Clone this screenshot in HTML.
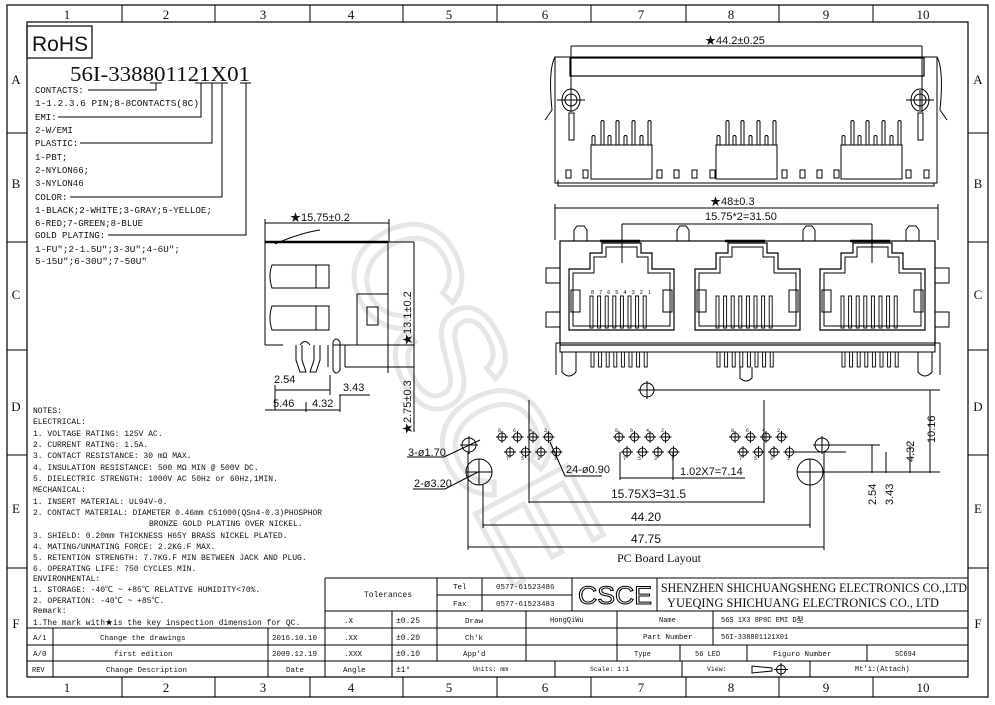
<!DOCTYPE html>
<html><head><meta charset="utf-8"><style>
html,body{margin:0;padding:0;background:#fff;}
svg{display:block;}
text{font-family:"Liberation Mono","Noto Sans CJK SC",monospace;fill:#111;}
.s{font-family:"Liberation Sans","Noto Sans CJK SC",sans-serif;}
.sf{font-family:"Liberation Serif","Noto Serif CJK SC",serif;}
</style></head><body>
<svg width="995" height="705" viewBox="0 0 995 705" xmlns="http://www.w3.org/2000/svg">
<defs>
<g id="port" fill="none" stroke="#000">
<path d="M0,87 V26 H21 V10 H33 V0 H72 V10 H83 V26 H105 V87 Z" stroke-width="1.2"/>
<path d="M4,83 V30 H25 V14 H37 V4 H68 V14 H79 V30 H101 V83 Z" stroke-width="1"/>
<rect x="2" y="47" width="9" height="22"/><rect x="94" y="47" width="9" height="22"/>
<g stroke-width="0.9">
<rect x="21" y="53" width="3" height="32"/><rect x="28.6" y="53" width="3" height="32"/><rect x="36.2" y="53" width="3" height="32"/><rect x="43.8" y="53" width="3" height="32"/>
<rect x="51.4" y="53" width="3" height="32"/><rect x="59" y="53" width="3" height="32"/><rect x="66.6" y="53" width="3" height="32"/><rect x="74.2" y="53" width="3" height="32"/>
</g>
<g stroke-width="0.9">
<rect x="22" y="109" width="3" height="15"/><rect x="29.6" y="109" width="3" height="15"/><rect x="37.2" y="109" width="3" height="15"/><rect x="44.8" y="109" width="3" height="15"/>
<rect x="52.4" y="109" width="3" height="15"/><rect x="60" y="109" width="3" height="15"/><rect x="67.6" y="109" width="3" height="15"/><rect x="75.2" y="109" width="3" height="15"/>
</g>
</g>
<g id="topj" fill="none" stroke="#000" stroke-width="1">
<rect x="591" y="145" width="61" height="34"/>
<path d="M592,145V137a1.5,1.5 0 0 1 3,0V145 M608,145V137a1.5,1.5 0 0 1 3,0V145 M624,145V137a1.5,1.5 0 0 1 3,0V145 M640,145V137a1.5,1.5 0 0 1 3,0V145"/>
<path d="M601,145V122a1.5,1.5 0 0 1 3,0V145 M616,145V122a1.5,1.5 0 0 1 3,0V145 M632,145V122a1.5,1.5 0 0 1 3,0V145 M648,145V122a1.5,1.5 0 0 1 3,0V145"/>
</g>
<g id="holes" fill="none" stroke="#000" stroke-width="0.9">
<circle cx="0" cy="0" r="4"/><path d="M-6,0H6M0,-6V6"/>
<circle cx="15.5" cy="0" r="4"/><path d="M9.5,0H21.5M15.5,-6V6"/>
<circle cx="31" cy="0" r="4"/><path d="M25,0H37M31,-6V6"/>
<circle cx="46.5" cy="0" r="4"/><path d="M40.5,0H52.5M46.5,-6V6"/>
<circle cx="8" cy="15" r="4"/><path d="M2,15H14M8,9V21"/>
<circle cx="23.5" cy="15" r="4"/><path d="M17.5,15H29.5M23.5,9V21"/>
<circle cx="39" cy="15" r="4"/><path d="M33,15H45M39,9V21"/>
<circle cx="54.5" cy="15" r="4"/><path d="M48.5,15H60.5M54.5,9V21"/>
<g stroke="none" fill="#222"><text x="-4" y="-5" style="font-size:5px">8</text><text x="11" y="-5" style="font-size:5px">6</text><text x="27" y="-5" style="font-size:5px">4</text><text x="42" y="-5" style="font-size:5px">2</text>
<text x="4" y="23" style="font-size:5px">7</text><text x="19" y="23" style="font-size:5px">5</text><text x="35" y="23" style="font-size:5px">3</text><text x="52" y="23" style="font-size:5px">1</text></g>
</g>
</defs>

<!-- watermark -->
<text x="0" y="0" class="s" transform="translate(335,250) rotate(62)" style="font-size:150px;fill:none;stroke:#e6e6e6;stroke-width:5;letter-spacing:-10px">CSCE</text>

<!-- frame -->
<g fill="none" stroke="#000" stroke-width="1.2">
<rect x="7" y="5" width="981" height="692"/>
<rect x="27" y="22" width="941" height="655"/>
</g>
<g stroke="#000" stroke-width="1">
<path d="M122,5V22M215,5V22M310,5V22M403,5V22M497,5V22M591,5V22M686,5V22M779,5V22M873,5V22"/>
<path d="M122,677V697M215,677V697M310,677V697M403,677V697M497,677V697M591,677V697M686,677V697M779,677V697M873,677V697"/>
<path d="M7,133H27M7,242H27M7,350H27M7,455H27M7,568H27"/>
<path d="M968,133H988M968,242H988M968,350H988M968,455H988M968,568H988"/>
</g>
<g style="font-size:13px" text-anchor="middle">
<text class="sf" x="67" y="19">1</text><text class="sf" x="166" y="19">2</text><text class="sf" x="263" y="19">3</text><text class="sf" x="351" y="19">4</text><text class="sf" x="449" y="19">5</text><text class="sf" x="545" y="19">6</text><text class="sf" x="641" y="19">7</text><text class="sf" x="731" y="19">8</text><text class="sf" x="826" y="19">9</text><text class="sf" x="923" y="19">10</text>
<text class="sf" x="67" y="692">1</text><text class="sf" x="166" y="692">2</text><text class="sf" x="263" y="692">3</text><text class="sf" x="351" y="692">4</text><text class="sf" x="449" y="692">5</text><text class="sf" x="545" y="692">6</text><text class="sf" x="641" y="692">7</text><text class="sf" x="731" y="692">8</text><text class="sf" x="826" y="692">9</text><text class="sf" x="923" y="692">10</text>
<text class="sf" x="16" y="84">A</text><text class="sf" x="16" y="188">B</text><text class="sf" x="16" y="299">C</text><text class="sf" x="16" y="411">D</text><text class="sf" x="16" y="513">E</text><text class="sf" x="16" y="628">F</text>
<text class="sf" x="978" y="84">A</text><text class="sf" x="978" y="188">B</text><text class="sf" x="978" y="299">C</text><text class="sf" x="978" y="411">D</text><text class="sf" x="978" y="513">E</text><text class="sf" x="978" y="628">F</text>
</g>

<!-- RoHS & part code -->
<rect x="27" y="26" width="65" height="32" fill="none" stroke="#000" stroke-width="1.2"/>
<text class="s" x="32" y="51" style="font-size:21px">RoHS</text>
<text class="sf" x="70" y="81" style="font-size:21px" textLength="180" lengthAdjust="spacingAndGlyphs">56I-338801121X01</text>
<g>
<text x="35" y="93" style="font-size:9px">CONTACTS:</text>
<text x="35" y="106" style="font-size:9px" textLength="164" lengthAdjust="spacingAndGlyphs">1-1.2.3.6 PIN;8-8CONTACTS(8C)</text>
<text x="35" y="120" style="font-size:9px">EMI:</text>
<text x="35" y="133" style="font-size:9px">2-W/EMI</text>
<text x="35" y="146" style="font-size:9px">PLASTIC:</text>
<text x="35" y="160" style="font-size:9px">1-PBT;</text>
<text x="35" y="173" style="font-size:9px">2-NYLON66;</text>
<text x="35" y="186" style="font-size:9px">3-NYLON46</text>
<text x="35" y="200" style="font-size:9px">COLOR:</text>
<text x="35" y="213" style="font-size:9px" textLength="177" lengthAdjust="spacingAndGlyphs">1-BLACK;2-WHITE;3-GRAY;5-YELLOE;</text>
<text x="35" y="226" style="font-size:9px">6-RED;7-GREEN;8-BLUE</text>
<text x="35" y="238" style="font-size:9px">GOLD PLATING:</text>
<text x="35" y="252" style="font-size:9px" textLength="145" lengthAdjust="spacingAndGlyphs">1-FU";2-1.5U";3-3U";4-6U";</text>
<text x="35" y="264" style="font-size:9px" textLength="112" lengthAdjust="spacingAndGlyphs">5-15U";6-30U";7-50U"</text>
</g>
<g fill="none" stroke="#000" stroke-width="1">
<path d="M88,90H156V83M150,83H162"/>
<path d="M58,117H201V83M195,83H207"/>
<path d="M80,143H212V83M207,83H218"/>
<path d="M70,197H222V83M217,83H228"/>
<path d="M108,235H246V83M240,83H251"/>
</g>

<!-- Notes -->
<g>
<text x="33" y="413" style="font-size:8px">NOTES:</text>
<text x="33" y="424" style="font-size:8px">ELECTRICAL:</text>
<text x="33" y="436" style="font-size:8px">1. VOLTAGE RATING: 125V AC.</text>
<text x="33" y="447" style="font-size:8px">2. CURRENT RATING: 1.5A.</text>
<text x="33" y="458" style="font-size:8px">3. CONTACT RESISTANCE: 30 mΩ MAX.</text>
<text x="33" y="470" style="font-size:8px">4. INSULATION RESISTANCE: 500 MΩ MIN @ 500V DC.</text>
<text x="33" y="481" style="font-size:8px">5. DIELECTRIC STRENGTH: 1000V AC 50Hz or 60Hz,1MIN.</text>
<text x="33" y="492" style="font-size:8px">MECHANICAL:</text>
<text x="33" y="504" style="font-size:8px">1. INSERT MATERIAL: UL94V-0.</text>
<text x="33" y="515" style="font-size:8px" textLength="289" lengthAdjust="spacingAndGlyphs">2. CONTACT MATERIAL: DIAMETER 0.46mm C51000(QSn4-0.3)PHOSPHOR</text>
<text x="149" y="526" style="font-size:8px">BRONZE GOLD PLATING OVER NICKEL.</text>
<text x="33" y="538" style="font-size:8px">3. SHIELD: 0.20mm THICKNESS H65Y BRASS NICKEL PLATED.</text>
<text x="33" y="549" style="font-size:8px">4. MATING/UNMATING FORCE: 2.2KG.F MAX.</text>
<text x="33" y="560" style="font-size:8px">5. RETENTION STRENGTH: 7.7KG.F MIN BETWEEN JACK AND PLUG.</text>
<text x="33" y="571" style="font-size:8px">6. OPERATING LIFE: 750 CYCLES MIN.</text>
<text x="33" y="581" style="font-size:8px">ENVIRONMENTAL:</text>
<text x="33" y="592" style="font-size:8px">1. STORAGE: -40℃ ~ +85℃ RELATIVE HUMIDITY&lt;70%.</text>
<text x="33" y="603" style="font-size:8px">2. OPERATION: -40℃ ~ +85℃.</text>
<text x="33" y="613" style="font-size:8px">Remark:</text>
<text x="33" y="625" style="font-size:8px">1.The mark with★is the key inspection dimension for QC.</text>
</g>

<!-- Title block -->
<g fill="none" stroke="#000" stroke-width="1">
<path d="M325,578H968M325,578V677M437,578V611M482,578V611M572,578V611M657,578V611M437,595H572"/>
<path d="M325,611H968M27,628H968M27,645H968M27,661H968"/>
<path d="M53,628V677M268,628V677M392,611V677M437,611V661M526,611V661M617,611V661M713,611V645M680,645V661M747,645V661M867,645V661M555,661V677M682,661V677M810,661V677"/>
</g>
<g>
<text x="364" y="597" style="font-size:8px">Tolerances</text>
<text x="453" y="589" style="font-size:7.5px">Tel</text>
<text x="453" y="606" style="font-size:7.5px">Fax</text>
<text x="496" y="589" style="font-size:7.5px">0577-61523486</text>
<text x="496" y="606" style="font-size:7.5px">0577-61523483</text>
<text x="344" y="623" style="font-size:7.5px">.X</text><text x="396" y="623" style="font-size:8px">±0.25</text>
<text x="344" y="640" style="font-size:7.5px">.XX</text><text x="396" y="640" style="font-size:8px">±0.20</text>
<text x="344" y="656" style="font-size:7.5px">.XXX</text><text x="396" y="656" style="font-size:8px">±0.10</text>
<text x="343" y="672" style="font-size:7.5px">Angle</text><text x="396" y="672" style="font-size:8px">±1°</text>
<text x="33" y="640" style="font-size:7.5px">A/1</text><text x="100" y="640" style="font-size:7.5px">Change the drawings</text><text x="272" y="640" style="font-size:7.5px">2016.10.10</text>
<text x="33" y="656" style="font-size:7.5px">A/0</text><text x="114" y="656" style="font-size:7.5px">first edition</text><text x="272" y="656" style="font-size:7.5px">2009.12.19</text>
<text x="32" y="672" style="font-size:7px">REV</text><text x="106" y="672" style="font-size:7.5px">Change Description</text><text x="286" y="672" style="font-size:7.5px">Date</text>
<text x="465" y="623" style="font-size:7.5px">Draw</text><text x="465" y="640" style="font-size:7.5px">Ch'k</text><text x="463" y="656" style="font-size:7.5px">App'd</text>
<text x="550" y="622" style="font-size:7px">HongQiWu</text>
<text x="659" y="622" style="font-size:7px">Name</text>
<text x="643" y="639" style="font-size:7.5px">Part Number</text>
<text x="721" y="622" style="font-size:7px">56S 1X3 8P8C EMI D型</text>
<text x="721" y="639" style="font-size:7px">56I-338801121X01</text>
<text x="634" y="656" style="font-size:7px">Type</text>
<text x="695" y="656" style="font-size:7px">56 LED</text>
<text x="773" y="656" style="font-size:7.5px">Figuro Number</text>
<text x="895" y="656" style="font-size:7px">SC694</text>
<text x="473" y="671" style="font-size:6.5px">Units: mm</text>
<text x="590" y="671" style="font-size:6.5px">Scale: 1:1</text>
<text x="707" y="671" style="font-size:6.5px">View:</text>
<text x="855" y="671" style="font-size:7px">Mt'1:(Attach)</text>
</g>
<g fill="none" stroke="#000" stroke-width="1">
<path d="M752,666V673L772,671V668Z"/><circle cx="781" cy="669.5" r="4.5"/><path d="M774,669.5H788M781,663V676"/>
</g>
<text class="s" x="578" y="604" style="font-size:25px;fill:#fff;stroke:#000;stroke-width:1" textLength="74" lengthAdjust="spacingAndGlyphs">CSCE</text>
<text class="sf" x="661" y="592" style="font-size:12.5px" textLength="306" lengthAdjust="spacingAndGlyphs">SHENZHEN SHICHUANGSHENG ELECTRONICS CO.,LTD</text>
<text class="sf" x="667" y="607" style="font-size:12.5px" textLength="272" lengthAdjust="spacingAndGlyphs">YUEQING SHICHUANG ELECTRONICS CO., LTD</text>

<!-- Side view -->
<g fill="none" stroke="#000" stroke-width="1">
<path d="M265,223H389M265,219V345M389,219V242"/>
<path d="M265,242H388" stroke-width="2.5"/>
<path d="M388,242V373M265,345H283M333,345H388M275,244Q300,233 320,230"/>
<path d="M272,265H329V288H272Q268,276 272,265Z M316,265V288 M272,306H329V330H272Q268,318 272,306Z M316,306V330"/>
<path d="M357,294V345M357,294H388M367,307H378V325H367Z"/>
<path d="M296,345V360L300,372H306L302,360V345M314,345V360L310,372H316L320,360V345M300,345Q305,338 310,345"/>
<path d="M328,345V367M345,345V367M333,342V370Q336,376 340,370V342Q336,336 333,342"/>
<path d="M345,367H414M388,242H414M388,345H414M414,242V432"/>
<path d="M275,390H330M330,375V395M275,385V410M339,395H370M265,410H340M306,402V412M340,395V412"/>
</g>
<text class="s" x="290" y="221" style="font-size:11px">★15.75±0.2</text>
<text class="s" transform="translate(411,345) rotate(-90)" style="font-size:11px">★13.1±0.2</text>
<text class="s" transform="translate(411,434) rotate(-90)" style="font-size:11px">★2.75±0.3</text>
<text class="s" x="274" y="383" style="font-size:11px">2.54</text>
<text class="s" x="343" y="391" style="font-size:11px">3.43</text>
<text class="s" x="273" y="407" style="font-size:11px">5.46</text>
<text class="s" x="312" y="407" style="font-size:11px">4.32</text>

<!-- Top front view -->
<g fill="none" stroke="#000" stroke-width="1">
<path d="M571,46H922M571,46V112M922,46V112"/>
<rect x="555" y="57" width="382" height="126"/>
<path d="M558,180V186H934V183"/>
<rect x="570" y="58" width="354" height="18" stroke-width="1.2"/>
<path d="M555,57Q548,70 552,110L545,120M937,57Q944,70 940,110L947,120"/>
<ellipse cx="571" cy="100" rx="9" ry="11"/><circle cx="571" cy="100" r="6"/><path d="M557,100H585M571,90V110"/>
<ellipse cx="920" cy="100" rx="9" ry="11"/><circle cx="920" cy="100" r="6"/><path d="M906,100H934M920,90V110"/>
<rect x="569" y="113" width="5" height="27"/><rect x="918" y="113" width="5" height="27"/>
<path d="M566,170h5v8h-5zM583,170h5v8h-5zM657,170h5v8h-5zM674,170h5v8h-5zM692,170h5v8h-5zM710,170h5v8h-5zM782,170h5v8h-5zM800,170h5v8h-5zM817,170h5v8h-5zM834,170h5v8h-5zM906,170h5v8h-5zM924,170h5v8h-5z"/>
</g>
<use href="#topj"/><use href="#topj" transform="translate(125,0)"/><use href="#topj" transform="translate(250,0)"/>
<text class="s" x="705" y="44" style="font-size:11px">★44.2±0.25</text>

<!-- Front view -->
<g fill="none" stroke="#000" stroke-width="1">
<path d="M555,208H938M555,204V240M938,204V240M622,224H872M622,224V263M872,224V263"/>
<rect x="560" y="241" width="375" height="104" stroke-width="1.2"/>
<path d="M600,241H640M725,241H765M850,241H890" stroke-width="2.5"/>
<path d="M574,241V230L577,226H584L587,230V241M677,241V230L680,226H686L689,230V241M803,241V230L806,226H812L815,230V241M906,241V230L909,226H916L919,230V241"/>
<path d="M560,268H546V283H560M560,312H546V327H560M935,268H949V283H935M935,312H949V327H935"/>
<path d="M556,343H940M560,345V352H935V345M556,343V375M940,343V375"/>
<path d="M562,352V372Q569,380 576,372V352M918,352V372Q925,380 932,372V352M740,367V378Q746,384 752,378V367"/>
</g>
<use href="#port" x="569" y="243"/><use href="#port" x="695" y="243"/><use href="#port" x="820" y="243"/>
<text class="s" x="591" y="294" style="font-size:5.5px" textLength="60">8 7 6 5 4 3 2 1</text>
<text class="s" x="710" y="205" style="font-size:11px">★48±0.3</text>
<text class="s" x="705" y="220" style="font-size:11px">15.75*2=31.50</text>

<!-- PCB layout -->
<g fill="none" stroke="#000" stroke-width="1">
<circle cx="647" cy="390" r="7"/><path d="M638,390H656M647,381V399M656,390H940M930,390V473"/>
<use href="#holes" x="502" y="437"/><use href="#holes" x="619" y="437"/><use href="#holes" x="735" y="437"/>
<circle cx="469" cy="445" r="7"/><path d="M460,445H478M469,436V454"/>
<circle cx="822" cy="445" r="7"/><path d="M813,445H831M822,436V454M831,445H880M790,452H846"/>
<circle cx="479" cy="472" r="13"/><path d="M466,472H492M479,459V485"/>
<circle cx="810" cy="472" r="13"/><path d="M797,472H823M810,459V485M823,472H940"/>
<path d="M529,400V503M764,400V503M529,502H764M483,485V528M810,485V528M483,525H810M468,452V550M824,452V550M468,547H824"/>
<path d="M620,452V480M673,452V480M620,478H745"/>
<path d="M872,445V473M886,452V473M910,445V473"/>
<path d="M407,457H444L480,440M413,489H445L478,472M565,476H602M565,476L550,442"/>
</g>
<text class="s" x="408" y="456" style="font-size:11px">3-ø1.70</text>
<text class="s" x="414" y="487" style="font-size:11px">2-ø3.20</text>
<text class="s" x="566" y="473" style="font-size:11px">24-ø0.90</text>
<text class="s" x="680" y="475" style="font-size:11px">1.02X7=7.14</text>
<text class="s" x="611" y="498" style="font-size:12px">15.75X3=31.5</text>
<text class="s" x="631" y="521" style="font-size:12px">44.20</text>
<text class="s" x="631" y="543" style="font-size:12px">47.75</text>
<text class="sf" x="617" y="562" style="font-size:12px">PC Board Layout</text>
<text class="s" transform="translate(935,443) rotate(-90)" style="font-size:11px">10.16</text>
<text class="s" transform="translate(914,462) rotate(-90)" style="font-size:11px">4.32</text>
<text class="s" transform="translate(876,505) rotate(-90)" style="font-size:11px">2.54</text>
<text class="s" transform="translate(893,505) rotate(-90)" style="font-size:11px">3.43</text>
</svg>
</body></html>
